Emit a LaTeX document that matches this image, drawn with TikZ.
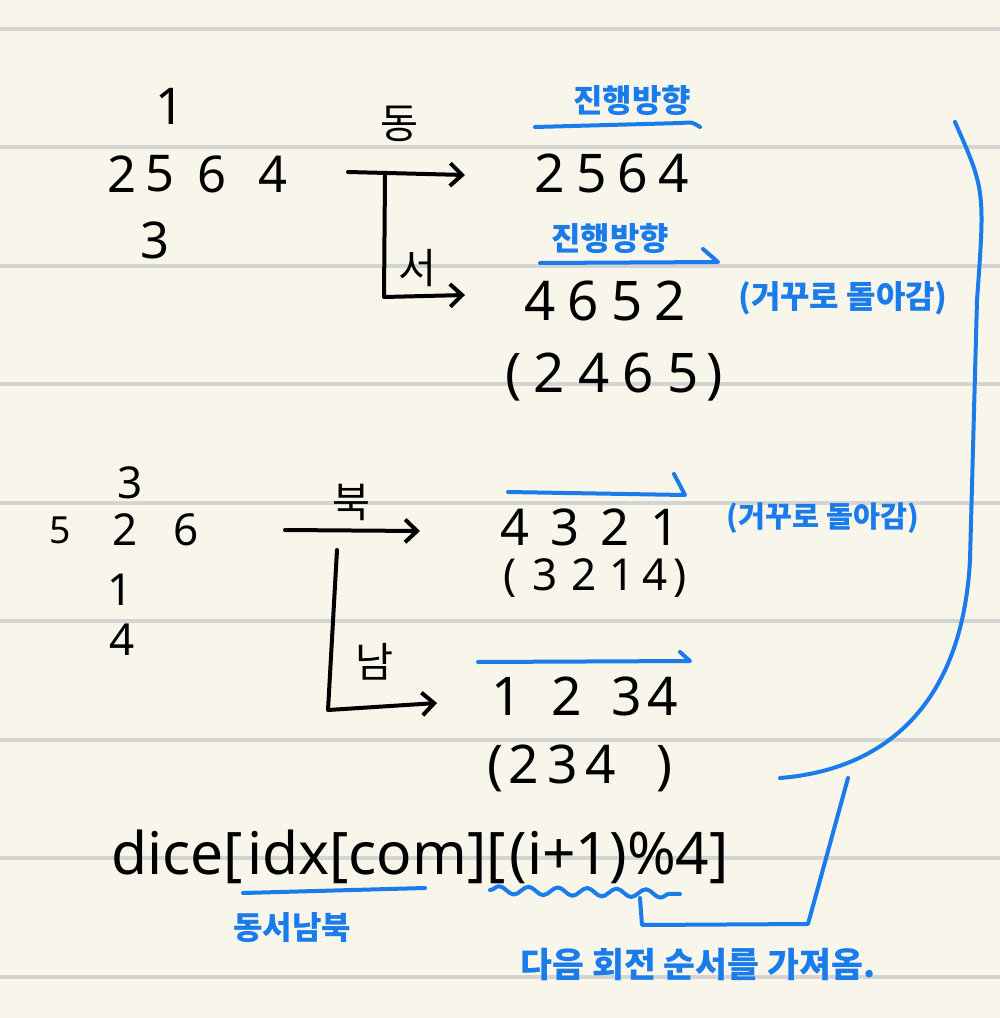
\documentclass[tikz,border=0pt]{standalone}
\usepackage{fontspec}
\setmainfont{Noto Sans}
\newfontfamily\kr{Noto Sans CJK KR}
\usetikzlibrary{arrows.meta,decorations.pathmorphing}
\definecolor{paper}{HTML}{F8F6EA}
\definecolor{rulec}{HTML}{D4D4D2}
\definecolor{pen}{HTML}{1A7CEB}
\begin{document}
\begin{tikzpicture}[x=0.75pt,y=-0.75pt,
  dg/.style={inner sep=0pt,font=\fontsize{38}{38}\selectfont},
  dgs/.style={inner sep=0pt,font=\fontsize{33}{33}\selectfont},
  kb/.style={inner sep=0pt,font=\kr\fontsize{31}{31}\selectfont},
  bt/.style={inner sep=0pt,text=pen,font=\kr\bfseries\fontsize{24}{24}\selectfont},
  bts/.style={inner sep=0pt,text=pen,font=\kr\bfseries\fontsize{22}{22}\selectfont},
  arr/.style={line width=3pt,line cap=round,line join=round,-{Straight Barb[length=9pt,width=17pt,line width=3pt]}},
  bl/.style={pen,line width=3pt,line cap=round,line join=round}]
\fill[paper] (0,0) rectangle (1000,1018);
\useasboundingbox (0,0) rectangle (1000,1018);
\foreach \yy in {29,147,266,384,503,621,740,858,977}
  \draw[rulec,line width=2.5pt] (0,\yy) -- (1000,\yy);

% top dice net
\node[dg] (a1) at (170,106) {1};
\node[dg] (a2) at (122,174) {2};
\node[dg] (a5) at (160,174) {5};
\node[dg] (a6) at (212,174) {6};
\node[dg] (a4) at (273,174) {4};
\node[dg] (a3) at (155,240) {3};

% east / west arrows
\coordinate (eS) at (348,172);
\coordinate (eE) at (465,175);
\coordinate (wT) at (385,176);
\coordinate (wC) at (384,297);
\coordinate (wE) at (465,295);
\draw[arr] (eS) -- (eE);
\draw[arr] (wT) -- (wC) -- (wE);
\node[kb] (east) at (400,124) {동};
\node[kb] (west) at (418,268) {서};

% right top results
\node[bt] (dir1) at (632,100) {진행방향};
\draw[bl] (535,127) -- (682,123) .. controls (692,122) .. (700,127);
\node[dg,font=\fontsize{40}{40}\selectfont] (r1) at (612,173) {2\hspace{8pt}5\hspace{8pt}6\hspace{8pt}4};
\node[bt] (dir2) at (610,238) {진행방향};
\coordinate (d2a) at (540,263);
\coordinate (d2b) at (718,262);
\draw[bl] (d2a) -- (d2b) -- (703,249);
\node[dg,font=\fontsize{41}{41}\selectfont] (r2) at (605,301) {4\hspace{9pt}6\hspace{9pt}5\hspace{9pt}2};
\node[dg,font=\fontsize{41}{41}\selectfont] (r3) at (614,377) {(\hspace{9pt}2\hspace{10pt}4\hspace{10pt}6\hspace{10pt}5\hspace{6pt})};
\node[bt] (rev1) at (843,298) {(거꾸로 돌아감)};

% middle dice net
\node[dgs] (b3) at (130,483) {3};
\node[dgs,font=\fontsize{28}{28}\selectfont] (b5) at (60,530) {5};
\node[dgs] (b2) at (125,530) {2};
\node[dgs] (b6) at (186,530) {6};
\node[dgs] (b1) at (120,590) {1};
\node[dgs] (b4) at (122,640) {4};

% north / south arrows
\coordinate (nS) at (285,530);
\coordinate (nE) at (420,531);
\coordinate (sT) at (337,550);
\coordinate (sC) at (328,710);
\coordinate (sE) at (437,703);
\draw[arr] (nS) -- (nE);
\draw[arr] (sT) -- (sC) -- (sE);
\node[kb] (north) at (352,502) {북};
\node[kb] (south) at (375,662) {남};

% middle results
\coordinate (u1a) at (508,492);
\coordinate (u1b) at (685,495);
\draw[bl] (u1a) -- (u1b) -- (674,474);
\node[dg] (m1) at (590,527) {4\hspace{16pt}3\hspace{16pt}2\hspace{16pt}1};
\node[dgs] (m2) at (595,578) {(\hspace{12pt}3\hspace{10pt}2\hspace{10pt}1\hspace{6pt}4\hspace{4pt})};
\node[bts] (rev2) at (823,518) {(거꾸로 돌아감)};
\coordinate (u2a) at (478,662);
\coordinate (u2b) at (690,661);
\draw[bl] (u2a) -- (u2b) -- (680,652);
\node[dg,font=\fontsize{40}{40}\selectfont] (m3) at (585,696) {1\hspace{22pt}2\hspace{22pt}3\hspace{4pt}4};
\node[dg,font=\fontsize{40}{40}\selectfont] (m4) at (580,768) {(\hspace{4pt}2\hspace{6pt}3\hspace{6pt}4\hspace{30pt})};

% big bracket
\coordinate (brT) at (955,122);
\coordinate (brB) at (780,778);
\draw[bl] (brT) .. controls (985,190) .. (977,300) -- (970,560) .. controls (962,710) and (880,770) .. (brB);

% bottom formula
\node[inner sep=0pt,font=\fontsize{44}{44}\selectfont] (code) at (420,857) {dice[\hspace{3pt}idx[com][\hspace{3pt}(i+1)\%4]};
\coordinate (ul1) at (243,893);
\coordinate (ul2) at (425,888);
\draw[bl] (ul1) -- (ul2);
\node[bt] (dirs) at (292,928) {동서남북};
\draw[bl,decorate,decoration={snake,amplitude=3pt,segment length=22pt}] (490,890) -- (680,894);
\coordinate (c1) at (640,898);
\coordinate (c2) at (642,925);
\coordinate (c3) at (808,924);
\coordinate (c4) at (848,778);
\draw[bl] (c1) -- (c2) -- (c3) -- (c4);
\node[bt,font=\kr\bfseries\fontsize{26}{26}\selectfont] (next) at (698,965) {다음 회전 순서를 가져옴.};
\end{tikzpicture}
\end{document}
